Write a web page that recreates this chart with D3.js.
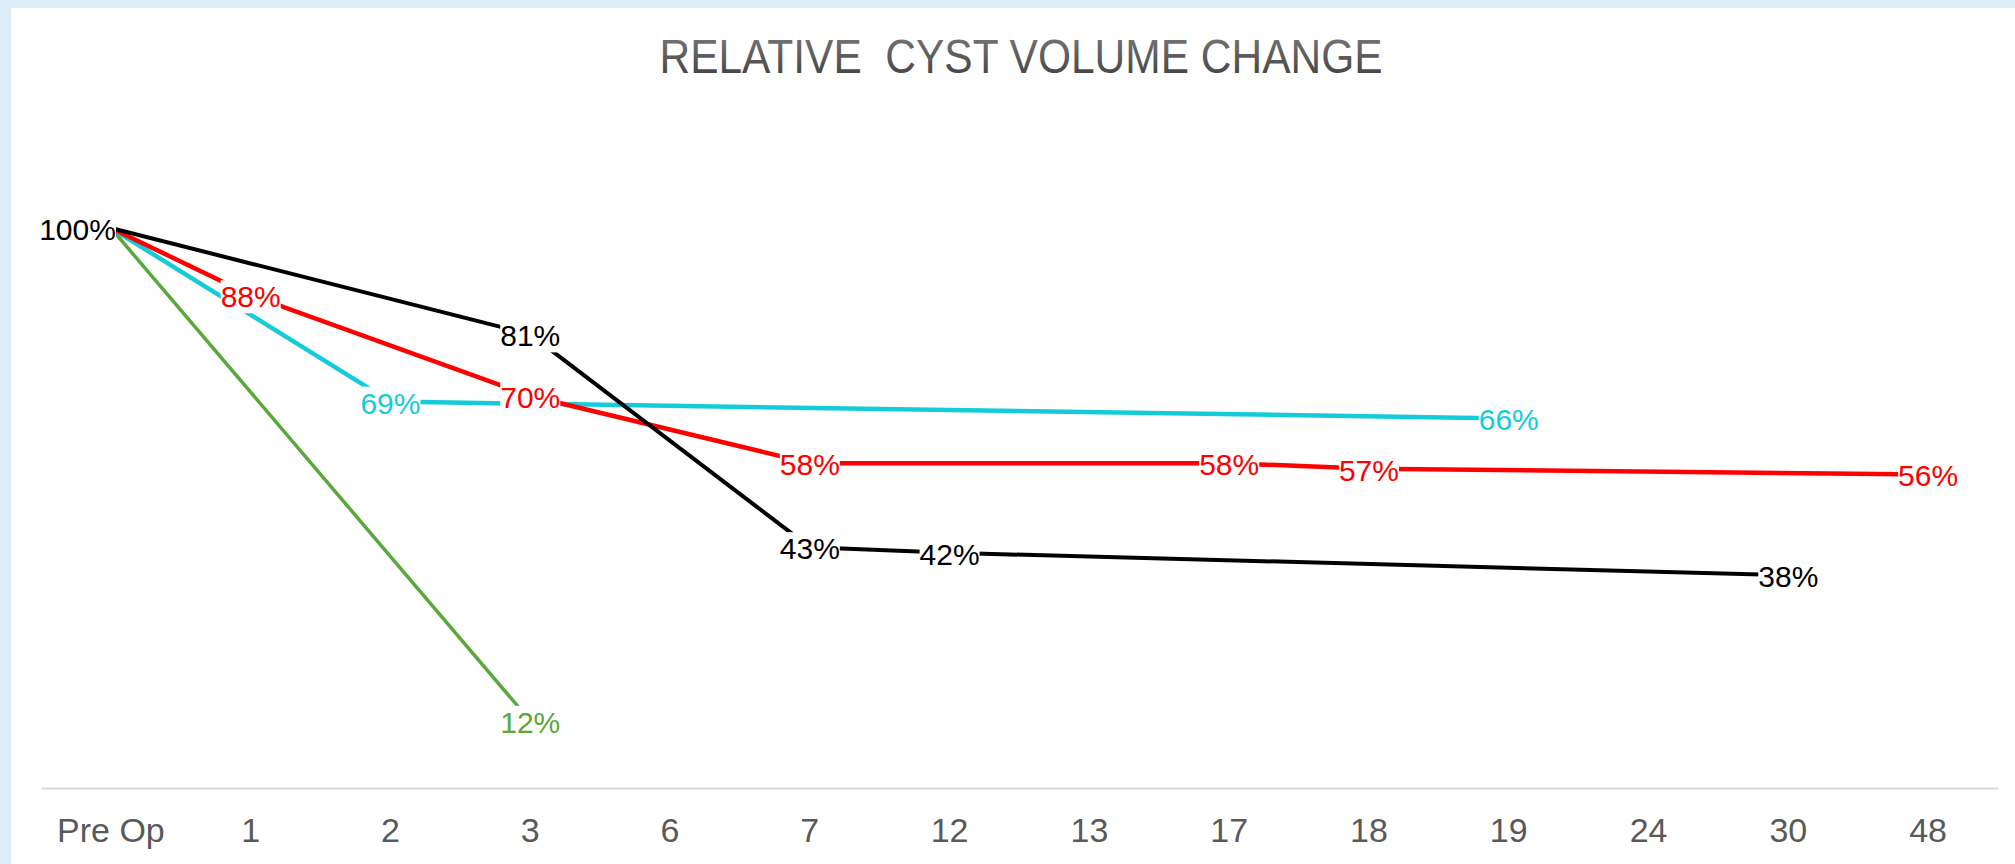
<!DOCTYPE html>
<html>
<head>
<meta charset="utf-8">
<script src="https://d3js.org/d3.v7.min.js"></script>
<style>
  html, body { margin: 0; padding: 0; background: #dcedf7; }
  svg { display: block; }
  text { font-family: "Liberation Sans", Arial, sans-serif; }
</style>
</head>
<body>
<div id="chart"></div>
<script>
// months after surgery
const categories = ["Pre Op", "1", "2", "3", "6", "7", "12", "13", "17", "18", "19", "24", "30", "48"];

const blackCats = ["Pre Op", "3", "7", "12", "30"];
const blackVals = [1.00, 0.81, 0.43, 0.42, 0.38];

const redCats = ["Pre Op", "1", "3", "7", "17", "18", "48"];
const redVals = [1.00, 0.88, 0.70, 0.58, 0.58, 0.57, 0.56];

const cyanCats = ["Pre Op", "2", "19"];
const cyanVals = [1.00, 0.69, 0.66];

const greenCats = ["Pre Op", "3"];
const greenVals = [1.00, 0.12];

const title = "RELATIVE  CYST VOLUME CHANGE";

const width = 2015, height = 864;

const series = [
  { name: "green", color: "#5aa83c", stroke: 3.5, cats: greenCats, vals: greenVals },
  { name: "cyan", color: "#14ccd9", stroke: 4.5, cats: cyanCats, vals: cyanVals },
  { name: "red", color: "#ff0000", stroke: 4.5, cats: redCats, vals: redVals },
  { name: "black", color: "#000000", stroke: 4, cats: blackCats, vals: blackVals }
];

const svg = d3.select("#chart").append("svg")
    .attr("width", width)
    .attr("height", height);

// white chart area inside the light blue frame
svg.append("rect")
    .attr("x", 11).attr("y", 8)
    .attr("width", width - 11).attr("height", height - 8)
    .attr("fill", "#ffffff");

const x = d3.scaleBand().domain(categories).range([41, 1998]);
const y = d3.scaleLinear().domain([0, 1]).range([788, 228]);
const cx = c => x(c) + x.bandwidth() / 2;

// title with a soft grey gradient
const grad = svg.append("defs").append("linearGradient")
    .attr("id", "titleGrad")
    .attr("x1", 0).attr("y1", 0).attr("x2", 0).attr("y2", 1);
grad.append("stop").attr("offset", "0%").attr("stop-color", "#7c7c7c");
grad.append("stop").attr("offset", "100%").attr("stop-color", "#3c3c3c");

svg.append("text")
    .attr("x", 1021)
    .attr("y", 73)
    .attr("text-anchor", "middle")
    .attr("font-size", 48)
    .attr("textLength", 723)
    .attr("lengthAdjust", "spacingAndGlyphs")
    .style("white-space", "pre")
    .attr("fill", "url(#titleGrad)")
    .text(title);

// category axis
const axis = svg.append("g")
    .attr("transform", `translate(0,${y(0)})`)
    .call(d3.axisBottom(x).tickSize(0).tickSizeOuter(0).tickPadding(30));
axis.select(".domain").attr("stroke", "#d9d9d9").attr("stroke-width", 2);
axis.selectAll(".tick text")
    .attr("font-size", 34)
    .attr("font-family", "Liberation Sans, Arial, sans-serif")
    .attr("fill", "#595959");

const line = d3.line()
    .x(d => cx(d.c))
    .y(d => y(d.v));

const data = series.map(s => ({
  ...s,
  points: s.cats.map((c, i) => ({ c: c, v: s.vals[i] }))
}));

svg.append("g")
    .selectAll("path")
    .data(data)
    .join("path")
    .attr("d", d => line(d.points))
    .attr("fill", "none")
    .attr("stroke", d => d.color)
    .attr("stroke-width", d => d.stroke);

// data labels with white boxes, drawn above all lines
const labelLayer = svg.append("g");
data.forEach(s => {
  s.points.forEach((p, i) => {
    const g = labelLayer.append("g");
    const t = g.append("text")
        .attr("x", i === 0 ? cx(p.c) + 5 : cx(p.c))
        .attr("y", y(p.v))
        .attr("dy", "0.4em")
        .attr("text-anchor", i === 0 ? "end" : "middle")
        .attr("font-size", 30)
        .attr("fill", s.color)
        .text(Math.round(p.v * 100) + "%");
    const b = t.node().getBBox();
    g.insert("rect", "text")
        .attr("x", b.x).attr("y", b.y)
        .attr("width", b.width).attr("height", b.height)
        .attr("fill", "#ffffff");
  });
});
</script>
</body>
</html>
